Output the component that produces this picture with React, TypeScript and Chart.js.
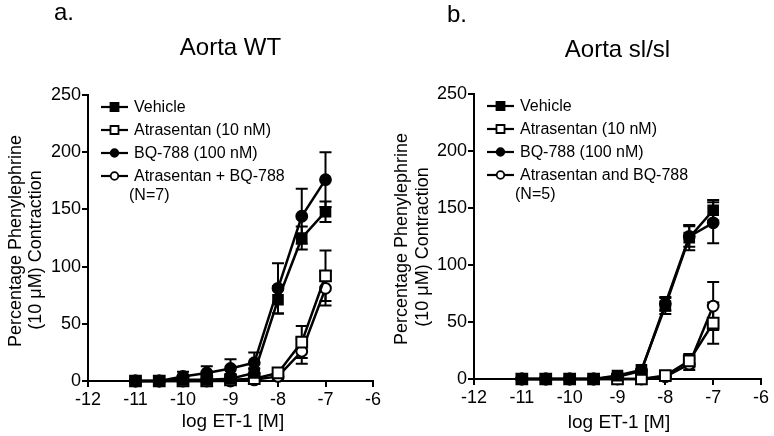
import React, { useEffect, useRef } from "react";
import { Chart, registerables } from "chart.js";

Chart.register(...registerables);

const X_VALUES = [-11, -10.5, -10, -9.5, -9, -8.5, -8, -7.5, -7];
const X_TICKS = [-12, -11, -10, -9, -8, -7, -6];
const Y_TICKS = [0, 50, 100, 150, 200, 250];

// Panel a: Aorta WT
const WT_VEHICLE = [0, 0, 1, 1, 2, 7, 71, 125, 148];
const WT_VEHICLE_ERR = [0, 0, 1, 1, 1, 4, 12, 10, 9];
const WT_ATRASENTAN = [0, 0, 0, 0, 1, 2, 7, 34, 92];
const WT_ATRASENTAN_ERR = [0, 0, 0, 0, 1, 1, 2, 14, 22];
const WT_BQ788 = [0, 0, 4, 7, 11, 16, 81, 144, 176];
const WT_BQ788_ERR = [0, 0, 4, 6, 8, 9, 22, 24, 24];
const WT_COMBO = [0, 0, 0, 0, 0, 1, 4, 26, 81];
const WT_COMBO_ERR = [0, 0, 0, 0, 0, 1, 2, 11, 15];

// Panel b: Aorta sl/sl
const SL_VEHICLE = [0, 0, 0, 0, 3, 8, 64, 124, 148];
const SL_VEHICLE_ERR = [0, 0, 0, 0, 1, 1, 7, 11, 9];
const SL_ATRASENTAN = [0, 0, 0, 0, 0, 0, 3, 16, 49];
const SL_ATRASENTAN_ERR = [0, 0, 0, 0, 0, 0, 1, 6, 18];
const SL_BQ788 = [0, 0, 0, 0, 2, 7, 66, 125, 137];
const SL_BQ788_ERR = [0, 0, 0, 0, 1, 1, 6, 9, 18];
const SL_COMBO = [0, 0, 0, 0, 0, 0, 2, 13, 64];
const SL_COMBO_ERR = [0, 0, 0, 0, 0, 0, 1, 5, 21];

const NAMES_A = ["Vehicle", "Atrasentan (10 nM)", "BQ-788 (100 nM)", "Atrasentan + BQ-788"];
const NAMES_B = ["Vehicle", "Atrasentan (10 nM)", "BQ-788 (100 nM)", "Atrasentan and BQ-788"];

const FONT = "'Liberation Sans', Arial, Helvetica, sans-serif";

type Marker = { style: "rect" | "circle"; filled: boolean };
const MARKERS: Marker[] = [
  { style: "rect", filled: true },
  { style: "rect", filled: false },
  { style: "circle", filled: true },
  { style: "circle", filled: false },
];

type PanelCfg = {
  letter: string;
  title: string;
  names: string[];
  nLabel: string;
  values: number[][];
  errors: number[][];
  area: { left: number; top: number; right: number; bottom: number };
  letterPos: [number, number];
  titleY: number;
  yTitle: { x1: number; y1: number; x2: number; y2: number };
  xTitle: { x: number; y: number };
};

const W = 387;
const H = 436;

function drawMarker(ctx: CanvasRenderingContext2D, m: Marker, x: number, y: number, s: number) {
  ctx.save();
  ctx.lineWidth = 1.8;
  ctx.strokeStyle = "#000";
  ctx.fillStyle = m.filled ? "#000" : "#fff";
  ctx.beginPath();
  if (m.style === "rect") {
    ctx.rect(x - s, y - s, 2 * s, 2 * s);
  } else {
    ctx.arc(x, y, s, 0, Math.PI * 2);
  }
  ctx.fill();
  ctx.stroke();
  ctx.restore();
}

function makePlugin(cfg: PanelCfg) {
  return {
    id: "panelDecor",
    beforeDatasetsDraw(chart: any) {
      const ctx: CanvasRenderingContext2D = chart.ctx;
      const xs = chart.scales.x;
      const ys = chart.scales.y;
      ctx.save();
      ctx.strokeStyle = "#000";
      ctx.lineWidth = 2;
      cfg.values.forEach((vals, i) => {
        vals.forEach((v, j) => {
          const e = cfg.errors[i][j];
          if (!e) return;
          const px = xs.getPixelForValue(X_VALUES[j]);
          const top = ys.getPixelForValue(v + e);
          const bot = ys.getPixelForValue(Math.max(0, v - e));
          ctx.beginPath();
          ctx.moveTo(px, top);
          ctx.lineTo(px, bot);
          ctx.moveTo(px - 6, top);
          ctx.lineTo(px + 6, top);
          if (v - e > 0) {
            ctx.moveTo(px - 6, bot);
            ctx.lineTo(px + 6, bot);
          }
          ctx.stroke();
        });
      });
      ctx.restore();
    },
    afterDraw(chart: any) {
      const ctx: CanvasRenderingContext2D = chart.ctx;
      const a = chart.chartArea;
      ctx.save();
      ctx.fillStyle = "#000";
      // panel letter
      ctx.font = `24px ${FONT}`;
      ctx.textAlign = "left";
      ctx.textBaseline = "alphabetic";
      ctx.fillText(cfg.letter, cfg.letterPos[0], cfg.letterPos[1]);
      // title
      ctx.textAlign = "center";
      ctx.fillText(cfg.title, (a.left + a.right) / 2, cfg.titleY);
      // x title
      ctx.font = `19px ${FONT}`;
      ctx.fillText("log ET-1 [M]", cfg.xTitle.x, cfg.xTitle.y);
      // y title
      ctx.font = `18px ${FONT}`;
      ctx.save();
      ctx.translate(cfg.yTitle.x1, cfg.yTitle.y1);
      ctx.rotate(-Math.PI / 2);
      ctx.fillText("Percentage Phenylephrine", 0, 0);
      ctx.restore();
      ctx.save();
      ctx.translate(cfg.yTitle.x2, cfg.yTitle.y2);
      ctx.rotate(-Math.PI / 2);
      ctx.fillText("(10 \u03BCM) Contraction", 0, 0);
      ctx.restore();
      // legend
      const rows = [12, 35, 58, 81];
      ctx.font = `16px ${FONT}`;
      ctx.textAlign = "left";
      ctx.textBaseline = "middle";
      cfg.names.forEach((name, i) => {
        const y = a.top + rows[i];
        const x0 = a.left + 13;
        const x1 = a.left + 40;
        ctx.save();
        ctx.strokeStyle = "#000";
        ctx.lineWidth = 2.2;
        ctx.beginPath();
        ctx.moveTo(x0, y);
        ctx.lineTo(x1, y);
        ctx.stroke();
        ctx.restore();
        drawMarker(ctx, MARKERS[i], (x0 + x1) / 2, y, MARKERS[i].style === "rect" ? 4 : 3.8);
        ctx.fillStyle = "#000";
        ctx.fillText(name, a.left + 46, y + 1);
      });
      ctx.fillText(cfg.nLabel, a.left + 41, a.top + 101);
      ctx.restore();
    },
  };
}

function buildChart(canvas: HTMLCanvasElement, cfg: PanelCfg) {
  const datasets = cfg.values.map((vals, i) => {
    const m = MARKERS[i];
    return {
      label: cfg.names[i],
      data: vals.map((v, j) => ({ x: X_VALUES[j], y: v })),
      showLine: true,
      borderColor: "#000",
      borderWidth: 2.5,
      tension: 0,
      pointStyle: m.style,
      pointRadius: m.style === "rect" ? (m.filled ? 6.8 : 7.6) : 5.4,
      pointBackgroundColor: m.filled ? "#000" : "#fff",
      pointBorderColor: "#000",
      pointBorderWidth: 2,
      clip: false as any,
    };
  });
  const ar = cfg.area;
  return new Chart(canvas, {
    type: "scatter",
    data: { datasets },
    options: {
      responsive: false,
      animation: false,
      layout: { padding: { left: 0, top: ar.top, right: W - ar.right, bottom: 0 } },
      plugins: { legend: { display: false }, tooltip: { enabled: false }, title: { display: false } },
      scales: {
        x: {
          type: "linear",
          min: -12,
          max: -6,
          afterFit: (s: any) => {
            s.height = H - ar.bottom;
          },
          afterBuildTicks: (s: any) => {
            s.ticks = X_TICKS.map((v) => ({ value: v }));
          },
          ticks: { color: "#000", font: { size: 18, family: FONT }, padding: 2, maxRotation: 0 },
          grid: { drawOnChartArea: false, drawTicks: true, tickLength: 6, color: "#000", lineWidth: 2 },
          border: { display: true, color: "#000", width: 2 },
        },
        y: {
          type: "linear",
          min: 0,
          max: 250,
          afterFit: (s: any) => {
            s.width = ar.left;
          },
          afterBuildTicks: (s: any) => {
            s.ticks = Y_TICKS.map((v) => ({ value: v }));
          },
          ticks: { color: "#000", font: { size: 18, family: FONT }, padding: 1 },
          grid: { drawOnChartArea: false, drawTicks: true, tickLength: 6, color: "#000", lineWidth: 2 },
          border: { display: true, color: "#000", width: 2 },
        },
      },
    },
    plugins: [makePlugin(cfg)],
  } as any);
}

const PANEL_A: PanelCfg = {
  letter: "a.",
  title: "Aorta WT",
  names: NAMES_A,
  nLabel: "(N=7)",
  values: [WT_VEHICLE, WT_ATRASENTAN, WT_BQ788, WT_COMBO],
  errors: [WT_VEHICLE_ERR, WT_ATRASENTAN_ERR, WT_BQ788_ERR, WT_COMBO_ERR],
  area: { left: 88, top: 95, right: 373, bottom: 381 },
  letterPos: [54, 20],
  titleY: 55,
  yTitle: { x1: 21, y1: 241, x2: 41, y2: 250 },
  xTitle: { x: 233, y: 427 },
};

const PANEL_B: PanelCfg = {
  letter: "b.",
  title: "Aorta sl/sl",
  names: NAMES_B,
  nLabel: "(N=5)",
  values: [SL_VEHICLE, SL_ATRASENTAN, SL_BQ788, SL_COMBO],
  errors: [SL_VEHICLE_ERR, SL_ATRASENTAN_ERR, SL_BQ788_ERR, SL_COMBO_ERR],
  area: { left: 87, top: 94, right: 374, bottom: 379 },
  letterPos: [60, 22],
  titleY: 57,
  yTitle: { x1: 20, y1: 239, x2: 41, y2: 247 },
  xTitle: { x: 232, y: 428 },
};

function Panel({ cfg }: { cfg: PanelCfg }) {
  const ref = useRef<HTMLCanvasElement | null>(null);
  useEffect(() => {
    if (!ref.current) return;
    const chart = buildChart(ref.current, cfg);
    return () => chart.destroy();
  }, [cfg]);
  return <canvas ref={ref} width={W} height={H} style={{ width: W, height: H, display: "block" }} />;
}

export default function App() {
  return (
    <div style={{ position: "absolute", left: 0, top: 0, width: 774, height: 436, display: "flex", background: "#fff" }}>
      <Panel cfg={PANEL_A} />
      <Panel cfg={PANEL_B} />
    </div>
  );
}
